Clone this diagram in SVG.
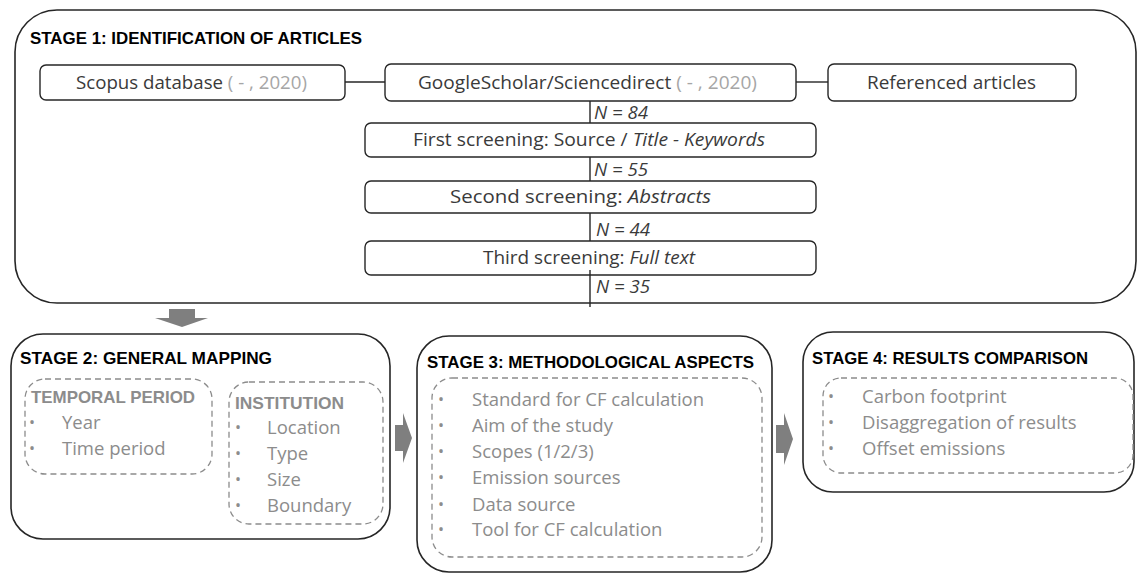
<svg xmlns="http://www.w3.org/2000/svg" width="1137" height="574" viewBox="0 0 1137 574">
<style>
.stage{fill:#fff;stroke:#262626;stroke-width:1.6}
.box{fill:#fff;stroke:#262626;stroke-width:1.4}
.dash{fill:none;stroke:#8c8c8c;stroke-width:1.3;stroke-dasharray:6,4}
.title{font-family:"Liberation Sans",Arial,sans-serif;font-weight:bold;font-size:16.5px;fill:#000}
.sub{font-family:"Liberation Sans",Arial,sans-serif;font-weight:bold;font-size:16.5px;fill:#8c8c8c}
.t{font-family:"Open Sans","Noto Sans",sans-serif;font-size:17.5px;fill:#3a3a3a}
.g{fill:#a6a6a6}
.n{font-family:"Open Sans","Noto Sans",sans-serif;font-size:17.5px;font-style:italic;fill:#3a3a3a}
.item{font-family:"Open Sans","Noto Sans",sans-serif;font-size:18.5px;fill:#8c8c8c}
.bul{font-size:16px}
.line{stroke:#262626;stroke-width:1.4;fill:none}
.arrow{fill:#7f7f7f}
</style>
<g id="stage1">
<rect class="stage" x="15" y="10" width="1121" height="293" rx="42"/>
<text class="title" x="30" y="44" textLength="332" lengthAdjust="spacingAndGlyphs">STAGE 1: IDENTIFICATION OF ARTICLES</text>
</g>
<g id="scopus">
<rect class="box" x="40" y="65" width="305" height="35" rx="6"/>
<text class="t" x="76" y="89" textLength="231" lengthAdjust="spacingAndGlyphs">Scopus database <tspan class="g">( - , 2020)</tspan></text>
</g>
<g id="google">
<rect class="box" x="385" y="64" width="411" height="37" rx="6"/>
<text class="t" x="418" y="89" textLength="339" lengthAdjust="spacingAndGlyphs">GoogleScholar/Sciencedirect <tspan class="g">( - , 2020)</tspan></text>
</g>
<g id="referenced">
<rect class="box" x="828" y="64" width="248" height="37" rx="6"/>
<text class="t" x="867" y="89" textLength="169" lengthAdjust="spacingAndGlyphs">Referenced articles</text>
</g>
<g id="first">
<rect class="box" x="365" y="123" width="451" height="34" rx="6"/>
<text class="t" x="413" y="146" textLength="352" lengthAdjust="spacingAndGlyphs">First screening: Source / <tspan font-style="italic">Title - Keywords</tspan></text>
</g>
<g id="second">
<rect class="box" x="365" y="181" width="451" height="32" rx="6"/>
<text class="t" x="450" y="203" textLength="261" lengthAdjust="spacingAndGlyphs">Second screening: <tspan font-style="italic">Abstracts</tspan></text>
</g>
<g id="third">
<rect class="box" x="365" y="241" width="451" height="34" rx="6"/>
<text class="t" x="483" y="264" textLength="212" lengthAdjust="spacingAndGlyphs">Third screening: <tspan font-style="italic">Full text</tspan></text>
</g>
<g id="connectors">
<line class="line" x1="345" y1="82" x2="385" y2="82"/>
<line class="line" x1="796" y1="82" x2="828" y2="82"/>
<line class="line" x1="590" y1="101" x2="590" y2="123"/>
<line class="line" x1="590" y1="157" x2="590" y2="181"/>
<line class="line" x1="590" y1="213" x2="590" y2="241"/>
<line class="line" x1="590" y1="270" x2="590" y2="307"/>
<text class="n" x="594" y="119" textLength="54" lengthAdjust="spacingAndGlyphs">N = 84</text>
<text class="n" x="594" y="176" textLength="54" lengthAdjust="spacingAndGlyphs">N = 55</text>
<text class="n" x="596" y="236" textLength="54" lengthAdjust="spacingAndGlyphs">N = 44</text>
<text class="n" x="596" y="293" textLength="54" lengthAdjust="spacingAndGlyphs">N = 35</text>
<polygon class="arrow" points="169,309 195,309 195,318 208,318 182,327 155,318 169,318"/>
<polygon class="arrow" points="395,425 403,425 403,413 412,438 403,463 403,451 395,451"/>
<polygon class="arrow" points="776,425 784,425 784,413 793,439 784,465 784,453 776,453"/>
</g>
<g id="stage2">
<rect class="stage" x="11" y="334" width="379" height="205" rx="32"/>
<text class="title" x="20" y="364" textLength="252" lengthAdjust="spacingAndGlyphs">STAGE 2: GENERAL MAPPING</text>
</g>
<g id="temporal">
<rect class="dash" x="25" y="379" width="187" height="95" rx="20"/>
<text class="sub" x="31" y="403" textLength="164" lengthAdjust="spacingAndGlyphs">TEMPORAL PERIOD</text>
<text class="item"><tspan class="bul" x="29" y="428">•</tspan><tspan x="62" y="429">Year</tspan><tspan class="bul" x="29" y="454">•</tspan><tspan x="62" y="455">Time period</tspan></text>
</g>
<g id="institution">
<rect class="dash" x="229" y="382" width="154" height="142" rx="20"/>
<text class="sub" x="235" y="409" textLength="109" lengthAdjust="spacingAndGlyphs">INSTITUTION</text>
<text class="item"><tspan class="bul" x="235" y="433">•</tspan><tspan x="267" y="434">Location</tspan><tspan class="bul" x="235" y="459">•</tspan><tspan x="267" y="460">Type</tspan><tspan class="bul" x="235" y="485">•</tspan><tspan x="267" y="486">Size</tspan><tspan class="bul" x="235" y="511">•</tspan><tspan x="267" y="512">Boundary</tspan></text>
</g>
<g id="stage3">
<rect class="stage" x="417" y="336" width="355" height="236" rx="32"/>
<text class="title" x="427" y="368" textLength="327" lengthAdjust="spacingAndGlyphs">STAGE 3: METHODOLOGICAL ASPECTS</text>
<rect class="dash" x="432" y="378" width="330" height="179" rx="20"/>
<text class="item"><tspan class="bul" x="438" y="405">•</tspan><tspan x="472" y="406">Standard for CF calculation</tspan><tspan class="bul" x="438" y="431">•</tspan><tspan x="472" y="432">Aim of the study</tspan><tspan class="bul" x="438" y="457">•</tspan><tspan x="472" y="458">Scopes (1/2/3)</tspan><tspan class="bul" x="438" y="483">•</tspan><tspan x="472" y="484">Emission sources</tspan><tspan class="bul" x="438" y="510">•</tspan><tspan x="472" y="511">Data source</tspan><tspan class="bul" x="438" y="535">•</tspan><tspan x="472" y="536">Tool for CF calculation</tspan></text>
</g>
<g id="stage4">
<rect class="stage" x="803" y="332" width="331" height="160" rx="30"/>
<text class="title" x="812" y="364" textLength="276" lengthAdjust="spacingAndGlyphs">STAGE 4: RESULTS COMPARISON</text>
<rect class="dash" x="823" y="378" width="310" height="95" rx="18"/>
<text class="item"><tspan class="bul" x="828" y="402">•</tspan><tspan x="862" y="403">Carbon footprint</tspan><tspan class="bul" x="828" y="428">•</tspan><tspan x="862" y="429">Disaggregation of results</tspan><tspan class="bul" x="828" y="454">•</tspan><tspan x="862" y="455">Offset emissions</tspan></text>
</g>
</svg>
